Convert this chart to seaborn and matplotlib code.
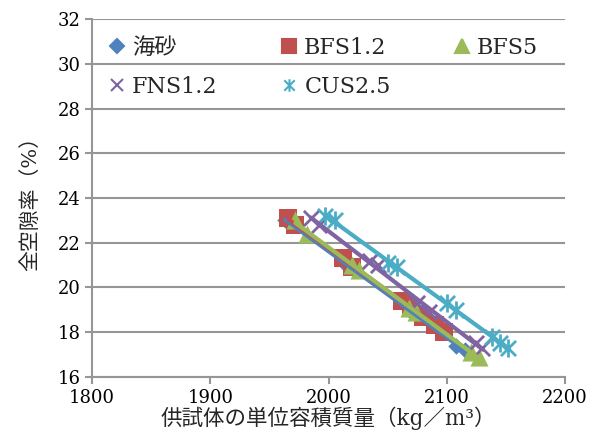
import numpy as np
import pandas as pd
import matplotlib
matplotlib.use("Agg")
import matplotlib.pyplot as plt
from matplotlib.lines import Line2D
from matplotlib.path import Path
import seaborn as sns

# data (unit weight kg/m3, void ratio %)
umi_x = [1963, 1968, 2013, 2018, 2065, 2070, 2108, 2115]
umi_y = [23.0, 22.9, 21.1, 20.9, 19.2, 18.9, 17.4, 17.2]
bfs12_x = [1966, 1972, 2012, 2020, 2062, 2070, 2080, 2090, 2098]
bfs12_y = [23.1, 22.8, 21.3, 20.9, 19.4, 19.1, 18.7, 18.3, 18.0]
bfs5_x = [1972, 1982, 2020, 2026, 2068, 2074, 2120, 2127]
bfs5_y = [23.0, 22.4, 21.0, 20.8, 19.1, 18.9, 17.1, 16.9]
fns12_x = [1985, 1992, 2035, 2042, 2075, 2085, 2125, 2130]
fns12_y = [23.1, 22.8, 21.2, 21.0, 19.3, 18.9, 17.5, 17.3]
cus25_x = [1997, 2005, 2050, 2058, 2100, 2108, 2138, 2145, 2152]
cus25_y = [23.2, 23.0, 21.1, 20.9, 19.3, 19.0, 17.8, 17.5, 17.3]

names = ["海砂", "BFS1.2", "BFS5", "FNS1.2", "CUS2.5"]
colors = ["#4F81BD", "#C0504D", "#9BBB59", "#8064A2", "#4BACC6"]

# excel style star: an x with a vertical bar
star = Path([(-1, -1), (1, 1), (-1, 1), (1, -1), (0, -1.2), (0, 1.2)],
            [Path.MOVETO, Path.LINETO, Path.MOVETO, Path.LINETO, Path.MOVETO, Path.LINETO])
markers = ["D", "s", "^", "x", star]
sizes = [70, 150, 170, 120, 170]
legend_sizes = [7, 10, 10, 9, 9]

sns.set_style("white")
plt.rcParams["font.family"] = ["DejaVu Serif", "Noto Sans CJK JP"]

fig = plt.figure(figsize=(5.98, 4.45), dpi=100)
ax = fig.add_axes([0.154, 0.153, 0.791, 0.804])

series = [(umi_x, umi_y), (bfs12_x, bfs12_y), (bfs5_x, bfs5_y),
          (fns12_x, fns12_y), (cus25_x, cus25_y)]
for (xs, ys), name, c, m, s in zip(series, names, colors, markers, sizes):
    df = pd.DataFrame({"x": xs, "y": ys})
    lw = 2 if name in ("FNS1.2", "CUS2.5") else 0
    sns.regplot(data=df, x="x", y="y", ax=ax, ci=None, color=c, marker=m,
                scatter_kws={"s": s, "linewidths": lw, "alpha": 1, "zorder": 3},
                line_kws={"lw": 3, "zorder": 4})

ax.set_xlim(1800, 2200)
ax.set_ylim(16, 32)
ax.set_xticks(range(1800, 2201, 100))
ax.set_yticks(range(16, 33, 2))
ax.yaxis.grid(True, color="#969696", lw=1.5)
ax.set_axisbelow(True)
for sp in ["top", "right"]:
    ax.spines[sp].set_visible(False)
for sp in ["left", "bottom"]:
    ax.spines[sp].set_color("#969696")
    ax.spines[sp].set_linewidth(1.5)
ax.tick_params(axis="both", labelsize=13, colors="#969696", labelcolor="black",
               length=5, width=1.5, direction="out", bottom=True, left=True)
ax.set_xlabel("供試体の単位容積質量（kg／m³）", fontsize=15.5, labelpad=0)
ax.set_ylabel("全空隙率（%）", fontsize=15, labelpad=12)

handles = []
for name, c, m, ms in zip(names, colors, markers, legend_sizes):
    handles.append(Line2D([], [], ls="none", marker=m, color=c, markersize=ms,
                          markeredgewidth=1.5, label=name))
order = [0, 3, 1, 4, 2]
leg = ax.legend([handles[i] for i in order], [names[i] for i in order],
                ncol=3, loc="upper left", bbox_to_anchor=(0.0, 0.993),
                fontsize=16, frameon=False, handlelength=0.8, handletextpad=0.3,
                columnspacing=2.8, labelspacing=0.75, borderaxespad=0.3)
leg.set_zorder(5)

fig.savefig("out.png", dpi=100)
